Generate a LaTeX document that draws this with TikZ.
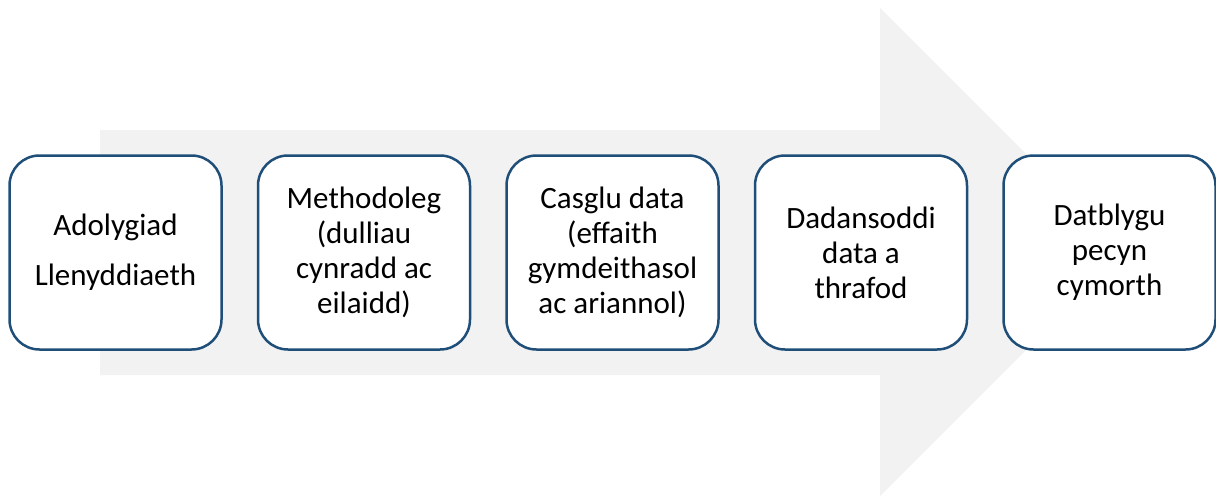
\documentclass[tikz,border=0pt]{standalone}
\usepackage{fontspec}
\setmainfont{Carlito}
\usetikzlibrary{positioning}
\definecolor{arrowgray}{HTML}{F2F2F2}
\definecolor{boxblue}{HTML}{1F4E79}
\tikzset{
  stage/.style={draw=boxblue, line width=2.5pt, fill=white, rounded corners=30pt,
    minimum width=212pt, minimum height=194pt, align=center, inner sep=0pt,
    font=\fontsize{31}{35}\selectfont}
}
\begin{document}
\begin{tikzpicture}[x=1pt,y=-1pt]
  \useasboundingbox (0,0) rectangle (1216,496);
  \fill[arrowgray] (100,130) -- (880,130) -- (880,8) -- (1124,252)
    -- (880,496) -- (880,375) -- (100,375) -- cycle;
  \node[stage] (lit) at (115.5,252.5) {Adolygiad\\[15pt]Llenyddiaeth};
  \node[stage, right=34pt of lit] (method) {Methodoleg\\(dulliau\\cynradd ac\\eilaidd)};
  \node[stage, right=34pt of method] (collect) {Casglu data\\(effaith\\gymdeithasol\\ac ariannol)};
  \node[stage, right=34pt of collect] (analyse) {Dadansoddi\\data a\\thrafod};
  \node[stage, right=34pt of analyse] (toolkit) {Datblygu\\pecyn\\cymorth};
\end{tikzpicture}
\end{document}
